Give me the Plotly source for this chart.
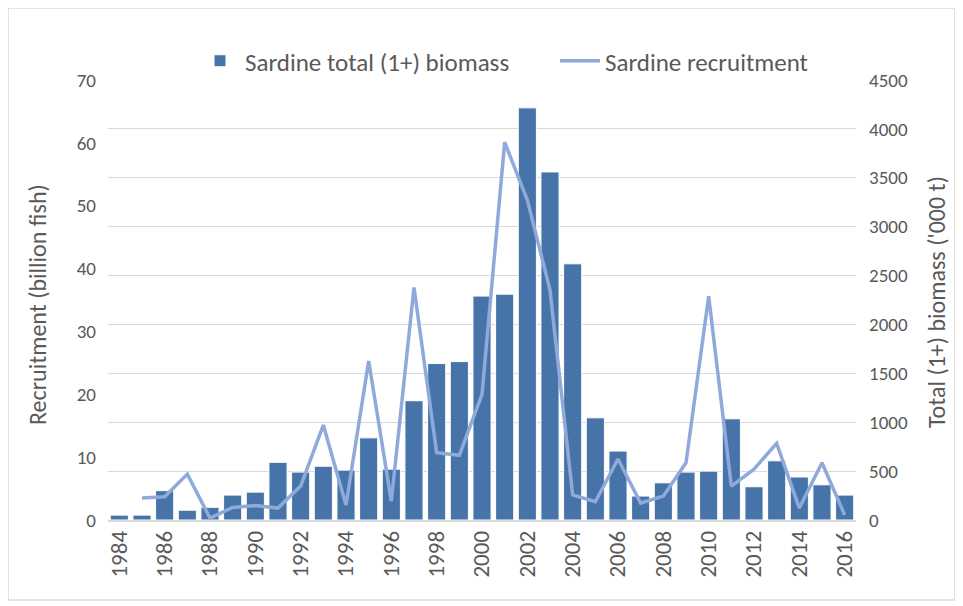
import plotly.graph_objects as go

years = [str(y) for y in range(1984, 2017)]

# total (1+) biomass, '000 t (right axis)
biomass = [50, 50, 300, 100, 130, 255, 285, 590, 490, 550, 510, 840, 520,
           1220, 1600, 1620, 2290, 2310, 4215, 3560, 2620, 1045, 705, 245,
           380, 490, 500, 1035, 340, 605, 440, 360, 255]

# recruitment, billion fish (left axis), no estimate for 1984
recruitment = [None, 3.5, 3.7, 7.3, 0.3, 2.0, 2.3, 1.9, 5.4, 15.1, 2.4, 25.3,
               3.0, 37.0, 10.7, 10.3, 20.0, 60.1, 50.9, 36.6, 4.0, 2.9, 9.7,
               2.7, 3.8, 9.1, 35.6, 5.4, 8.1, 12.2, 1.9, 9.1, 0.8]

bar_color = '#4674A8'
line_color = '#8FAADA'
text_color = '#595959'
font = 'Carlito, Open Sans, Liberation Sans, sans-serif'

# plot area as seen on screen; the page body adds an 8px offset
OFF = 8
L, R, T, B = 108, 856, 80, 520
W, H = R - L, B - T

fig = go.Figure()

fig.add_trace(go.Bar(
    x=years, y=biomass, name='Sardine total (1+) biomass',
    marker=dict(color=bar_color, line=dict(color='white', width=1)),
    yaxis='y'
))

fig.add_trace(go.Scatter(
    x=years, y=recruitment, name='Sardine recruitment',
    mode='lines', line=dict(color=line_color, width=3.5),
    yaxis='y2'
))

fig.update_layout(
    width=963, height=606,
    margin=dict(l=L - OFF, r=963 - (R - OFF), t=T - OFF, b=606 - (B - OFF),
                autoexpand=False),
    paper_bgcolor='white', plot_bgcolor='white',
    font=dict(family=font, color=text_color, size=19),
    bargap=0.2,
    showlegend=True,
    legend=dict(orientation='h', x=(195 - L) / W, xanchor='left',
                yref='container', y=1 - (61 - OFF) / 606, yanchor='middle',
                font=dict(size=25, color=text_color),
                bgcolor='rgba(0,0,0,0)',
                itemwidth=40, entrywidth=305, traceorder='normal'),
    xaxis=dict(type='category', tickangle=-90, dtick=2, automargin=False,
               tickfont=dict(size=23, color=text_color),
               showline=True, linecolor='#d9d9d9', linewidth=1.5,
               showgrid=False, ticks=''),
    yaxis=dict(side='right', range=[0, 4500], dtick=500, automargin=False,
               showgrid=True, gridcolor='#d9d9d9', gridwidth=1,
               zeroline=False, ticks='', ticklabelstandoff=12,
               tickfont=dict(size=19, color=text_color)),
    yaxis2=dict(side='left', overlaying='y', range=[0, 70], dtick=10,
                automargin=False, showgrid=False, zeroline=False, ticks='',
                ticklabelstandoff=11,
                tickfont=dict(size=19, color=text_color)),
    annotations=[
        dict(text='Recruitment (billion fish)', textangle=-90,
             xref='paper', yref='paper', x=(37 - L) / W, y=(B - 305) / H,
             xanchor='center', yanchor='middle', showarrow=False,
             font=dict(size=24, color=text_color)),
        dict(text="Total (1+) biomass ('000 t)", textangle=-90,
             xref='paper', yref='paper', x=(936 - L) / W, y=(B - 302) / H,
             xanchor='center', yanchor='middle', showarrow=False,
             font=dict(size=24, color=text_color)),
    ],
    shapes=[dict(type='rect', xref='paper', yref='paper',
                 x0=(8 - L) / W, x1=(955 - L) / W,
                 y0=(B - 600) / H, y1=(B - 8) / H,
                 line=dict(color='#d9d9d9', width=1.5), layer='below')]
)

fig.write_html('out.html')
